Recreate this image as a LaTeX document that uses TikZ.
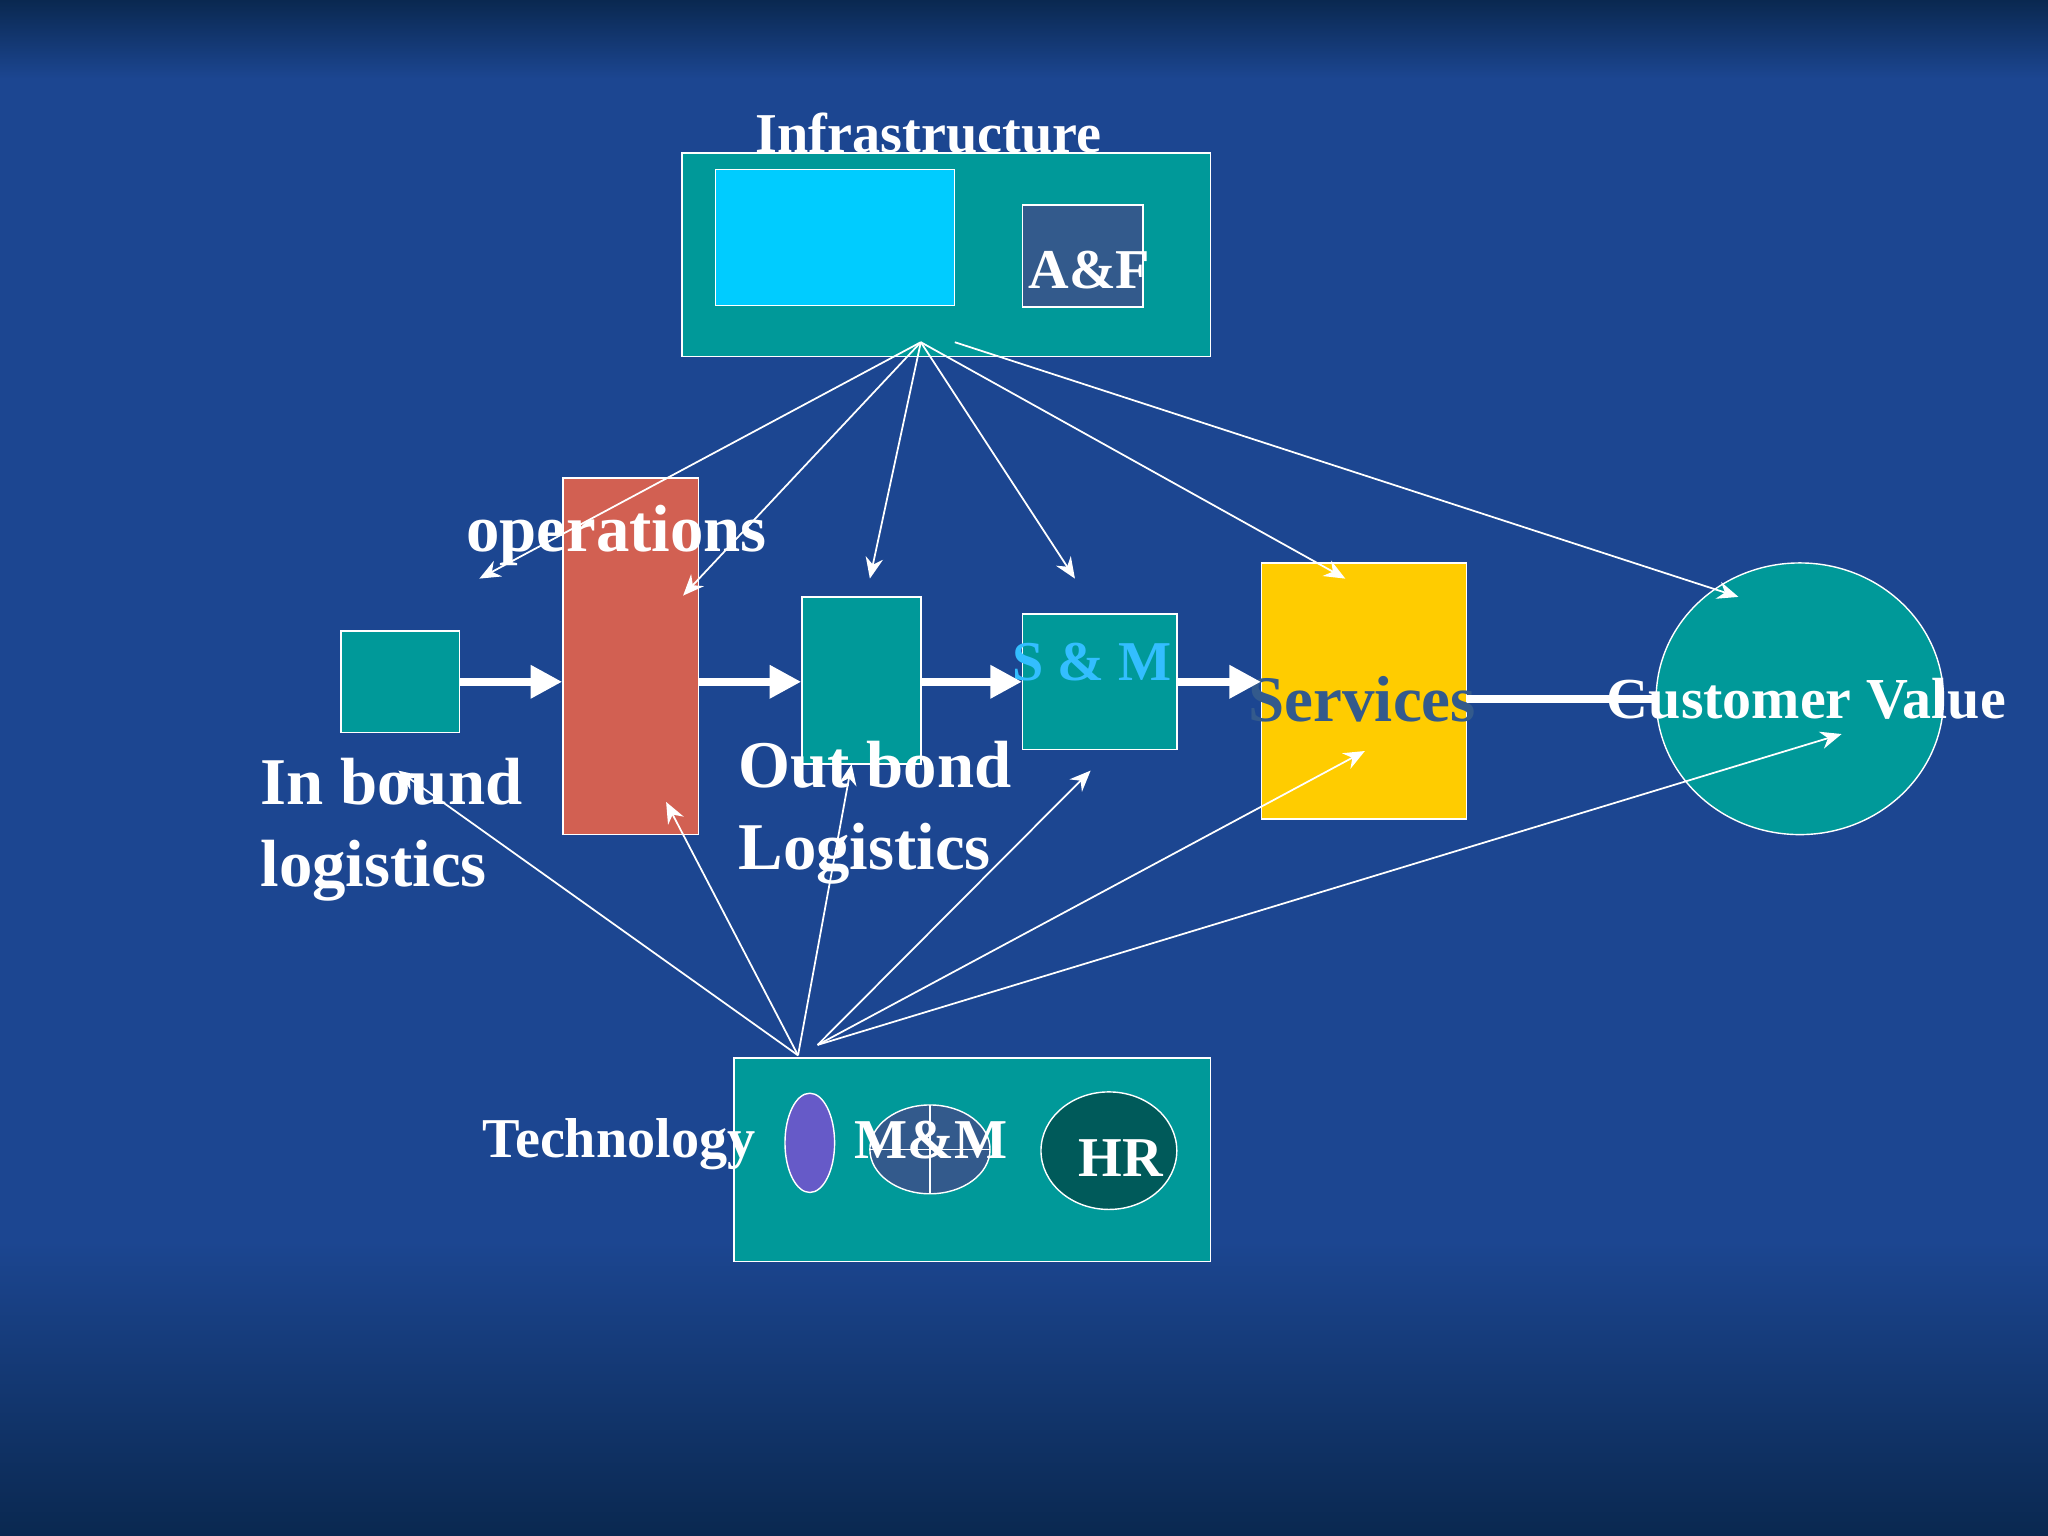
\documentclass[tikz,border=0pt]{standalone}
\usepackage{fontspec}
\setmainfont{Liberation Serif}
\usetikzlibrary{positioning, calc, arrows.meta}
\definecolor{vcBack}{RGB}{28,70,145}
\definecolor{vcDark}{RGB}{10,40,80}
\definecolor{vcTeal}{RGB}{0,153,153}
\definecolor{vcCyan}{RGB}{0,204,255}
\definecolor{vcSlate}{RGB}{51,90,140}
\definecolor{vcRed}{RGB}{210,96,82}
\definecolor{vcYellow}{RGB}{255,204,0}
\definecolor{vcPurple}{RGB}{102,90,200}
\definecolor{vcHR}{RGB}{0,90,90}
\definecolor{vcSky}{RGB}{51,190,255}
\begin{document}
\begin{tikzpicture}[x=0.01306cm, y=-0.01306cm,
      block/.style={draw=white, fill=vcTeal, inner sep=0pt},
      lbl/.style={text=white, font=\bfseries\fontsize{19}{23.4}\selectfont, align=left, inner sep=0pt},
      small/.style={font=\bfseries\fontsize{16}{19}\selectfont},
      flow/.style={-{Triangle[length=9pt,width=9pt]}, white, line width=2.2pt},
      thin/.style={-{Stealth[length=6pt,width=5pt]}, white, line width=0.5pt}
    ]
      % background
      \fill[top color=vcDark, bottom color=vcBack, middle color=vcBack] (0,0) rectangle (1568,120);
      \fill[vcBack] (0,120) rectangle (1568,950);
      \fill[top color=vcBack, bottom color=vcDark] (0,950) rectangle (1568,1176);
      \useasboundingbox (0,0) rectangle (1568,1176);
      % infrastructure
      \node[block, minimum width=405*0.01306cm, minimum height=156*0.01306cm] (infra) at (724.5,195) {};
      \node[lbl, small] (infralbl) at (711,102) {Infrastructure};
      \node[block, fill=vcCyan, minimum width=183*0.01306cm, minimum height=104*0.01306cm] (cyan) at (639.5,182) {};
      \node[block, fill=vcSlate, minimum width=92*0.01306cm, minimum height=78*0.01306cm] (af) at (829,196) {};
      \node[lbl, small] at (834,207) {A\&F};
      % primary chain
      \node[block, minimum width=91*0.01306cm, minimum height=78*0.01306cm] (inb) at (306.5,522) {};
      \node[block, fill=vcRed, minimum width=104*0.01306cm, minimum height=273*0.01306cm] (ops) at (483,502.5) {};
      \node[block, minimum width=91*0.01306cm, minimum height=128*0.01306cm] (outb) at (659.5,521) {};
      \node[block, minimum width=118*0.01306cm, minimum height=104*0.01306cm] (sm) at (842,522) {};
      \node[block, fill=vcYellow, minimum width=157*0.01306cm, minimum height=196*0.01306cm] (serv) at (1044.5,529) {};
      \draw[white, fill=vcTeal] (1378,535) ellipse (110 and 104);
      \coordinate (cv) at (1270,535);
      % labels
      \node[lbl] at (472,410) {operations};
      \node[lbl, anchor=north west] at (199,580) {In bound\\logistics};
      \node[lbl, anchor=north west] at (565,567) {Out bond\\Logistics};
      \node[lbl, small, text=vcSky] at (836,507) {S \& M};
      \node[lbl, text=vcSlate, font=\bfseries\fontsize{18.5}{21}\selectfont] at (1043,535) {Services};
      \node[lbl, font=\bfseries\fontsize{16.5}{19}\selectfont] at (1383,535) {Customer Value};
      % flow arrows
      \draw[flow] (inb.east) -- (ops.west |- inb.east);
      \draw[flow] (ops.east |- inb.east) -- (outb.west |- inb.east);
      \draw[flow] (outb.east |- inb.east) -- (sm.west |- inb.east);
      \draw[flow] (sm.east |- inb.east) -- (serv.west |- inb.east);
      \draw[white, line width=2.2pt] (serv.east |- cv) -- (cv);
      % technology
      \node[block, minimum width=365*0.01306cm, minimum height=156*0.01306cm] (tech) at (744.5,888) {};
      \node[lbl, small] at (474,876) {Technology};
      \draw[white, fill=vcPurple] (620,875) ellipse (19 and 38);
      \draw[white, fill=vcSlate] (712,880) ellipse (46 and 34);
      \draw[white] (666,880) -- (758,880) (712,846) -- (712,914);
      \node[lbl, small] at (713,873) {M\&M};
      \draw[white, fill=vcHR] (849,881) ellipse (52 and 45);
      \node[lbl, small] at (858,887) {HR};
      % support lines from infrastructure
      \coordinate (itop) at (705,262);
      \coordinate (itop2) at (731,262);
      \coordinate (a1) at (367,443);
      \coordinate (a2) at (523,456);
      \coordinate (a3) at (666,443);
      \coordinate (a4) at (823,443);
      \coordinate (a5) at (1030,443);
      \coordinate (a6) at (1331,457);
      \foreach \t in {a1,a2,a3,a4,a5} \draw[thin] (itop) -- (\t);
      \draw[thin] (itop2) -- (a6);
      % support lines from technology
      \coordinate (tbot) at (611,808);
      \coordinate (tbot2) at (626,800);
      \coordinate (b1) at (305,590);
      \coordinate (b2) at (510,614);
      \coordinate (b3) at (652,585);
      \coordinate (b4) at (835,590);
      \coordinate (b5) at (1045,575);
      \coordinate (b6) at (1410,562);
      \foreach \t in {b1,b2,b3} \draw[thin] (tbot) -- (\t);
      \foreach \t in {b4,b5,b6} \draw[thin] (tbot2) -- (\t);
    \end{tikzpicture}
\end{document}
